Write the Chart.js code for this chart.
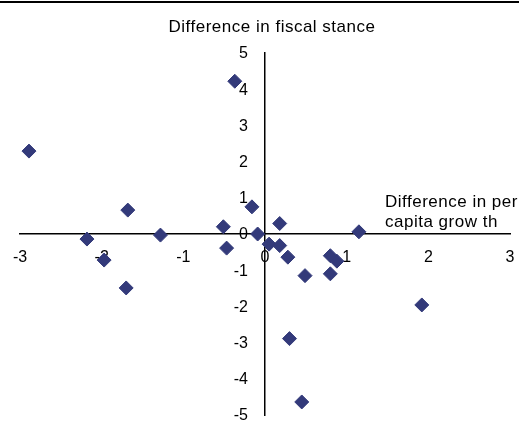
<!DOCTYPE html>
<html>
<head>
<meta charset="utf-8">
<script src="https://cdn.jsdelivr.net/npm/chart.js@4/dist/chart.umd.min.js"></script>
<style>
  html, body { margin: 0; padding: 0; background: #fff; }
  #wrap { position: relative; width: 519px; height: 423px; }
</style>
</head>
<body>
<div id="wrap"><canvas id="c" width="519" height="423"></canvas></div>
<script>
// Difference in per capita growth (x) vs difference in fiscal stance (y)
const growthDiff = [-2.89, -2.18, -1.97, -1.68, -1.70, -1.28, -0.51, -0.47, -0.16, -0.09,
                    0.05, 0.18, 0.18, 0.28, 0.49, 0.80, 0.88, 0.80, 1.15, 1.92, 0.30, 0.45, -0.37];
const fiscalDiff = [2.29, -0.14, -0.72, 0.66, -1.49, -0.03, 0.20, -0.39, 0.75, 0.00,
                    -0.28, 0.29, -0.32, -0.64, -1.15, -0.60, -0.75, -1.10, 0.06, -1.96, -2.89, -4.64, 4.22];
const xTicks = [-3, -2, -1, 0, 1, 2, 3];
const yTicks = [5, 4, 3, 2, 1, 0, -1, -2, -3, -4, -5];
const yTitle = 'Difference in fiscal stance';
const xTitle = ['Difference in per', 'capita grow th'];

const points = growthDiff.map((x, i) => ({ x: x, y: fiscalDiff[i] }));
const FONT = '"Liberation Sans", Arial, sans-serif';

const decor = {
  id: 'decor',
  afterDraw(chart) {
    const ctx = chart.ctx;
    const xs = chart.scales.x, ys = chart.scales.y;
    const ax = xs.getPixelForValue(0);
    const ay = ys.getPixelForValue(0);
    ctx.save();
    ctx.fillStyle = '#000';
    ctx.fillRect(0, 1, chart.width, 2);
    // y tick labels, placed through the y scale
    ctx.font = '16px ' + FONT;
    ctx.textAlign = 'right';
    ctx.textBaseline = 'middle';
    yTicks.forEach(v => ctx.fillText(String(v), ax - 17, ys.getPixelForValue(v) + 1));
    // axis titles
    ctx.font = '17px ' + FONT;
    try { ctx.letterSpacing = '0.5px'; } catch (e) {}
    ctx.textBaseline = 'alphabetic';
    ctx.textAlign = 'center';
    ctx.fillText(yTitle, ax + 7, ys.top - 21);
    ctx.textAlign = 'left';
    ctx.fillText(xTitle[0], 385, ay - 27);
    ctx.fillText(xTitle[1], 385, ay - 7);
    ctx.restore();
  }
};

new Chart(document.getElementById('c'), {
  type: 'scatter',
  data: {
    datasets: [{
      data: points,
      pointStyle: 'rectRot',
      pointRadius: 7,
      pointHoverRadius: 7,
      backgroundColor: '#333A7A',
      borderColor: '#333A7A',
      borderWidth: 1,
      clip: false
    }]
  },
  options: {
    responsive: false,
    animation: false,
    layout: { padding: { left: 20, right: 9, top: 53, bottom: 7 } },
    plugins: { legend: { display: false }, tooltip: { enabled: false }, title: { display: false } },
    scales: {
      x: {
        type: 'linear',
        position: { y: 0 },
        min: -3, max: 3,
        afterBuildTicks: (s) => { s.ticks = xTicks.map(v => ({ value: v })); },
        afterFit: (s) => { s.paddingLeft = 0; s.paddingRight = 0; },
        grid: { display: false, drawTicks: false },
        border: { display: true, color: '#000', width: 1.5 },
        ticks: { color: '#000', font: { family: FONT, size: 16 }, padding: 14, maxRotation: 0, autoSkip: false }
      },
      y: {
        type: 'linear',
        position: { x: 0 },
        min: -5, max: 5,
        afterBuildTicks: (s) => { s.ticks = yTicks.map(v => ({ value: v })); },
        grid: { display: false, drawTicks: false },
        border: { display: true, color: '#000', width: 1.5 },
        ticks: { display: false }
      }
    }
  },
  plugins: [decor]
});
</script>
</body>
</html>
